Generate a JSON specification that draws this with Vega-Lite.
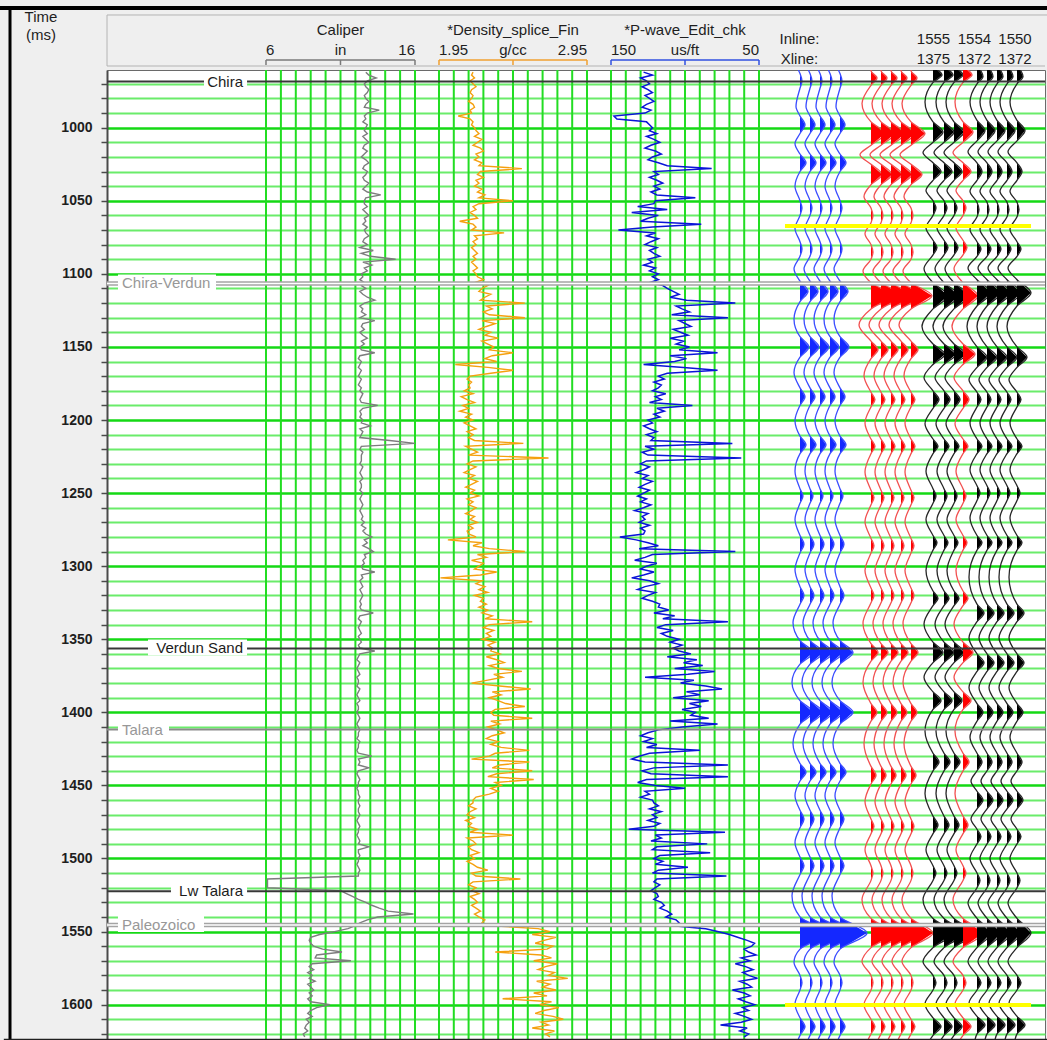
{
"$schema": "https://vega.github.io/schema/vega-lite/v6.json",
"width": 938,
"height": 969,
"autosize": {"type": "none"},
"padding": {"left": 107, "top": 70, "right": 2, "bottom": 1},
"background": "#efefef",
"view": {"fill": "#ffffff", "stroke": "#6a6a6a", "strokeWidth": 1},
"config": {"font": "Liberation Sans"},
"data": {"values": [{}]},
"datasets": {
"logs": [
{"t":962,"c":12.7,"d":2.18,"p":128},{"t":964,"c":12.9,"d":2.17,"p":122},{"t":966,"c":13.4,"d":2.19,"p":130},{"t":968,"c":12.8,"d":2.16,"p":126},{"t":970,"c":12.6,"d":2.18,"p":124},{"t":972,"c":12.7,"d":2.20,"p":129},{"t":974,"c":12.9,"d":2.17,"p":125},{"t":976,"c":12.8,"d":2.16,"p":122},{"t":978,"c":12.6,"d":2.18,"p":127},{"t":980,"c":12.7,"d":2.17,"p":124},
{"t":982,"c":12.9,"d":2.15,"p":121},{"t":984,"c":12.7,"d":2.18,"p":126},{"t":986,"c":12.6,"d":2.19,"p":129},{"t":988,"c":13.6,"d":2.16,"p":123},{"t":990,"c":12.8,"d":2.17,"p":127},{"t":992,"c":12.6,"d":2.08,"p":148},{"t":994,"c":12.7,"d":2.16,"p":146},{"t":996,"c":12.5,"d":2.18,"p":126},{"t":998,"c":12.8,"d":2.17,"p":124},{"t":1000,"c":12.7,"d":2.19,"p":122},
{"t":1002,"c":12.6,"d":2.20,"p":124},{"t":1004,"c":12.8,"d":2.22,"p":119},{"t":1006,"c":12.5,"d":2.19,"p":126},{"t":1008,"c":12.7,"d":2.24,"p":121},{"t":1010,"c":12.9,"d":2.21,"p":117},{"t":1012,"c":12.6,"d":2.18,"p":123},{"t":1014,"c":12.5,"d":2.23,"p":127},{"t":1016,"c":12.8,"d":2.25,"p":120},{"t":1018,"c":12.6,"d":2.20,"p":116},{"t":1020,"c":12.4,"d":2.22,"p":122},
{"t":1022,"c":12.7,"d":2.19,"p":125},{"t":1024,"c":12.9,"d":2.24,"p":118},{"t":1026,"c":12.6,"d":2.22,"p":112},{"t":1028,"c":12.5,"d":2.51,"p":82},{"t":1030,"c":12.8,"d":2.23,"p":121},{"t":1032,"c":12.7,"d":2.21,"p":118},{"t":1034,"c":12.5,"d":2.25,"p":124},{"t":1036,"c":12.6,"d":2.20,"p":119},{"t":1038,"c":12.9,"d":2.22,"p":115},{"t":1040,"c":12.7,"d":2.19,"p":121},
{"t":1042,"c":12.5,"d":2.24,"p":117},{"t":1044,"c":12.8,"d":2.21,"p":123},{"t":1046,"c":13.7,"d":2.26,"p":119},{"t":1048,"c":12.7,"d":2.22,"p":93},{"t":1050,"c":12.6,"d":2.45,"p":120},{"t":1052,"c":12.6,"d":2.22,"p":121},{"t":1054,"c":12.8,"d":2.18,"p":132},{"t":1056,"c":12.5,"d":2.20,"p":112},{"t":1058,"c":12.7,"d":2.16,"p":136},{"t":1060,"c":12.9,"d":2.19,"p":118},
{"t":1062,"c":12.6,"d":2.21,"p":125},{"t":1064,"c":12.7,"d":2.09,"p":130},{"t":1066,"c":12.5,"d":2.18,"p":89},{"t":1068,"c":12.8,"d":2.20,"p":122},{"t":1070,"c":12.6,"d":2.17,"p":145},{"t":1072,"c":12.7,"d":2.39,"p":120},{"t":1074,"c":12.9,"d":2.19,"p":126},{"t":1076,"c":12.6,"d":2.21,"p":118},{"t":1078,"c":12.5,"d":2.18,"p":123},{"t":1080,"c":12.8,"d":2.20,"p":127},
{"t":1082,"c":12.3,"d":2.17,"p":119},{"t":1084,"c":13.2,"d":2.19,"p":124},{"t":1086,"c":12.4,"d":2.21,"p":121},{"t":1088,"c":13.0,"d":2.18,"p":117},{"t":1090,"c":14.7,"d":2.20,"p":125},{"t":1092,"c":12.5,"d":2.17,"p":122},{"t":1094,"c":13.1,"d":2.19,"p":128},{"t":1096,"c":12.6,"d":2.21,"p":120},{"t":1098,"c":12.8,"d":2.18,"p":124},{"t":1100,"c":12.4,"d":2.20,"p":118},
{"t":1102,"c":12.5,"d":2.21,"p":122},{"t":1104,"c":12.3,"d":2.25,"p":118},{"t":1106,"c":12.6,"d":2.19,"p":124},{"t":1108,"c":12.4,"d":2.28,"p":115},{"t":1110,"c":12.7,"d":2.24,"p":112},{"t":1112,"c":12.3,"d":2.22,"p":108},{"t":1114,"c":12.5,"d":2.30,"p":104},{"t":1116,"c":12.8,"d":2.26,"p":110},{"t":1118,"c":13.3,"d":2.23,"p":99},{"t":1120,"c":12.6,"d":2.53,"p":66},
{"t":1122,"c":12.3,"d":2.27,"p":106},{"t":1124,"c":12.5,"d":2.31,"p":102},{"t":1126,"c":12.4,"d":2.25,"p":97},{"t":1128,"c":12.7,"d":2.29,"p":109},{"t":1130,"c":12.3,"d":2.53,"p":71},{"t":1132,"c":13.3,"d":2.24,"p":104},{"t":1134,"c":12.5,"d":2.33,"p":100},{"t":1136,"c":12.4,"d":2.27,"p":96},{"t":1138,"c":12.6,"d":2.22,"p":108},{"t":1140,"c":12.3,"d":2.30,"p":103},
{"t":1142,"c":12.5,"d":2.26,"p":98},{"t":1144,"c":12.8,"d":2.35,"p":110},{"t":1146,"c":12.4,"d":2.24,"p":101},{"t":1148,"c":12.6,"d":2.28,"p":106},{"t":1150,"c":12.3,"d":2.32,"p":97},{"t":1152,"c":12.4,"d":2.29,"p":104},{"t":1154,"c":13.3,"d":2.45,"p":78},{"t":1156,"c":12.3,"d":2.31,"p":110},{"t":1158,"c":12.2,"d":2.26,"p":99},{"t":1160,"c":12.4,"d":2.34,"p":107},
{"t":1162,"c":12.3,"d":2.06,"p":128},{"t":1164,"c":12.2,"d":2.28,"p":101},{"t":1166,"c":12.4,"d":2.45,"p":78},{"t":1168,"c":12.3,"d":2.30,"p":112},{"t":1170,"c":12.2,"d":2.16,"p":118},{"t":1172,"c":12.4,"d":2.14,"p":114},{"t":1174,"c":12.3,"d":2.17,"p":121},{"t":1176,"c":12.2,"d":2.15,"p":116},{"t":1178,"c":12.4,"d":2.16,"p":118},{"t":1180,"c":12.3,"d":2.12,"p":122},
{"t":1182,"c":12.5,"d":2.18,"p":113},{"t":1184,"c":12.4,"d":2.10,"p":120},{"t":1186,"c":12.3,"d":2.14,"p":116},{"t":1188,"c":12.4,"d":2.19,"p":124},{"t":1190,"c":13.5,"d":2.11,"p":95},{"t":1192,"c":12.5,"d":2.15,"p":119},{"t":1194,"c":12.3,"d":2.09,"p":114},{"t":1196,"c":12.4,"d":2.17,"p":121},{"t":1198,"c":12.3,"d":2.13,"p":117},{"t":1200,"c":12.5,"d":2.18,"p":125},
{"t":1202,"c":12.4,"d":2.12,"p":122},{"t":1204,"c":13.0,"d":2.16,"p":128},{"t":1206,"c":12.3,"d":2.20,"p":124},{"t":1208,"c":12.5,"d":2.14,"p":119},{"t":1210,"c":12.4,"d":2.18,"p":126},{"t":1212,"c":12.3,"d":2.15,"p":121},{"t":1214,"c":14.3,"d":2.19,"p":123},{"t":1216,"c":16.0,"d":2.52,"p":68},{"t":1218,"c":12.4,"d":2.13,"p":127},{"t":1220,"c":12.3,"d":2.17,"p":121},
{"t":1222,"c":12.5,"d":2.21,"p":129},{"t":1224,"c":12.4,"d":2.15,"p":125},{"t":1226,"c":12.4,"d":2.69,"p":62},{"t":1228,"c":12.4,"d":2.18,"p":126},{"t":1230,"c":12.3,"d":2.14,"p":130},{"t":1232,"c":12.5,"d":2.20,"p":124},{"t":1234,"c":12.4,"d":2.16,"p":128},{"t":1236,"c":12.3,"d":2.12,"p":133},{"t":1238,"c":12.4,"d":2.19,"p":125},{"t":1240,"c":12.5,"d":2.15,"p":129},
{"t":1242,"c":12.3,"d":2.21,"p":122},{"t":1244,"c":12.4,"d":2.17,"p":127},{"t":1246,"c":12.4,"d":2.13,"p":131},{"t":1248,"c":12.3,"d":2.19,"p":124},{"t":1250,"c":12.5,"d":2.16,"p":128},{"t":1252,"c":12.4,"d":2.22,"p":132},{"t":1254,"c":12.3,"d":2.14,"p":126},{"t":1256,"c":12.4,"d":2.18,"p":130},{"t":1258,"c":12.5,"d":2.15,"p":123},{"t":1260,"c":12.4,"d":2.20,"p":128},
{"t":1262,"c":12.3,"d":2.17,"p":134},{"t":1264,"c":12.4,"d":2.13,"p":125},{"t":1266,"c":12.5,"d":2.19,"p":129},{"t":1268,"c":12.4,"d":2.16,"p":127},{"t":1270,"c":12.6,"d":2.21,"p":131},{"t":1272,"c":12.4,"d":2.15,"p":124},{"t":1274,"c":12.7,"d":2.18,"p":130},{"t":1276,"c":12.5,"d":2.14,"p":127},{"t":1278,"c":12.7,"d":2.15,"p":128},{"t":1280,"c":13.1,"d":2.20,"p":144},
{"t":1282,"c":12.6,"d":2.01,"p":133},{"t":1284,"c":12.8,"d":2.24,"p":125},{"t":1286,"c":12.5,"d":2.18,"p":118},{"t":1288,"c":12.9,"d":2.29,"p":131},{"t":1290,"c":13.2,"d":2.53,"p":66},{"t":1292,"c":12.6,"d":2.21,"p":122},{"t":1294,"c":12.7,"d":2.27,"p":127},{"t":1296,"c":12.5,"d":2.17,"p":134},{"t":1298,"c":12.6,"d":2.25,"p":119},{"t":1300,"c":12.4,"d":2.22,"p":126},
{"t":1302,"c":12.5,"d":2.19,"p":130},{"t":1304,"c":13.3,"d":2.34,"p":121},{"t":1306,"c":12.4,"d":2.23,"p":128},{"t":1308,"c":12.5,"d":1.96,"p":136},{"t":1310,"c":12.3,"d":2.24,"p":124},{"t":1312,"c":12.4,"d":2.20,"p":118},{"t":1314,"c":12.5,"d":2.26,"p":127},{"t":1316,"c":12.3,"d":2.22,"p":132},{"t":1318,"c":12.4,"d":2.28,"p":120},{"t":1320,"c":12.5,"d":2.19,"p":125},
{"t":1322,"c":12.4,"d":2.25,"p":129},{"t":1324,"c":12.3,"d":2.23,"p":122},{"t":1326,"c":12.4,"d":2.27,"p":117},{"t":1328,"c":12.3,"d":2.22,"p":118},{"t":1330,"c":12.4,"d":2.28,"p":111},{"t":1332,"c":13.2,"d":2.24,"p":121},{"t":1334,"c":12.3,"d":2.31,"p":107},{"t":1336,"c":12.2,"d":2.26,"p":115},{"t":1338,"c":12.4,"d":2.58,"p":71},{"t":1340,"c":12.3,"d":2.29,"p":113},
{"t":1342,"c":12.2,"d":2.25,"p":119},{"t":1344,"c":12.3,"d":2.32,"p":108},{"t":1346,"c":12.4,"d":2.27,"p":116},{"t":1348,"c":12.2,"d":2.30,"p":112},{"t":1350,"c":12.3,"d":2.24,"p":104},{"t":1352,"c":12.4,"d":2.33,"p":110},{"t":1354,"c":12.2,"d":2.28,"p":102},{"t":1356,"c":12.3,"d":2.31,"p":108},{"t":1358,"c":13.3,"d":2.30,"p":104},{"t":1360,"c":12.3,"d":2.36,"p":96},
{"t":1362,"c":12.2,"d":2.27,"p":112},{"t":1364,"c":12.1,"d":2.34,"p":92},{"t":1366,"c":12.3,"d":2.39,"p":101},{"t":1368,"c":12.2,"d":2.29,"p":88},{"t":1370,"c":12.1,"d":2.35,"p":107},{"t":1372,"c":12.2,"d":2.51,"p":80},{"t":1374,"c":12.3,"d":2.32,"p":98},{"t":1376,"c":12.1,"d":2.38,"p":127},{"t":1378,"c":12.2,"d":2.28,"p":94},{"t":1380,"c":12.2,"d":2.17,"p":103},
{"t":1382,"c":12.1,"d":2.36,"p":86},{"t":1384,"c":12.3,"d":2.57,"p":75},{"t":1386,"c":12.2,"d":2.31,"p":99},{"t":1388,"c":12.1,"d":2.37,"p":90},{"t":1390,"c":12.2,"d":2.29,"p":108},{"t":1392,"c":12.3,"d":2.35,"p":84},{"t":1394,"c":12.1,"d":2.40,"p":97},{"t":1396,"c":12.2,"d":2.53,"p":89},{"t":1398,"c":12.2,"d":2.33,"p":102},{"t":1400,"c":12.1,"d":2.30,"p":93},
{"t":1402,"c":12.2,"d":2.32,"p":96},{"t":1404,"c":12.3,"d":2.58,"p":84},{"t":1406,"c":12.2,"d":2.30,"p":110},{"t":1408,"c":12.1,"d":2.36,"p":78},{"t":1410,"c":12.2,"d":2.28,"p":102},{"t":1412,"c":12.3,"d":2.34,"p":118},{"t":1414,"c":12.2,"d":2.39,"p":125},{"t":1416,"c":12.2,"d":2.31,"p":130},{"t":1418,"c":12.1,"d":2.27,"p":122},{"t":1420,"c":12.3,"d":2.35,"p":128},
{"t":1422,"c":12.2,"d":2.30,"p":119},{"t":1424,"c":12.2,"d":2.37,"p":126},{"t":1426,"c":12.1,"d":2.56,"p":90},{"t":1428,"c":12.2,"d":2.33,"p":124},{"t":1430,"c":13.1,"d":2.29,"p":131},{"t":1432,"c":12.2,"d":2.17,"p":136},{"t":1434,"c":12.3,"d":2.56,"p":127},{"t":1436,"c":12.2,"d":2.36,"p":71},{"t":1438,"c":12.9,"d":2.31,"p":121},{"t":1440,"c":12.2,"d":2.58,"p":129},
{"t":1442,"c":12.1,"d":2.34,"p":123},{"t":1444,"c":12.2,"d":2.28,"p":71},{"t":1446,"c":12.3,"d":2.59,"p":126},{"t":1448,"c":12.2,"d":2.33,"p":132},{"t":1450,"c":12.2,"d":2.37,"p":120},{"t":1452,"c":12.1,"d":2.30,"p":100},{"t":1454,"c":12.2,"d":2.35,"p":127},{"t":1456,"c":12.2,"d":2.29,"p":124},{"t":1458,"c":12.3,"d":2.20,"p":130},{"t":1460,"c":12.2,"d":2.18,"p":122},
{"t":1462,"c":12.2,"d":2.18,"p":121},{"t":1464,"c":12.3,"d":2.15,"p":118},{"t":1466,"c":12.2,"d":2.20,"p":124},{"t":1468,"c":12.2,"d":2.16,"p":116},{"t":1470,"c":12.3,"d":2.14,"p":122},{"t":1472,"c":12.2,"d":2.19,"p":119},{"t":1474,"c":12.1,"d":2.13,"p":125},{"t":1476,"c":12.2,"d":2.17,"p":117},{"t":1478,"c":12.3,"d":2.15,"p":121},{"t":1480,"c":12.2,"d":2.21,"p":138},
{"t":1482,"c":12.2,"d":2.16,"p":73},{"t":1484,"c":12.1,"d":2.45,"p":120},{"t":1486,"c":12.2,"d":2.14,"p":116},{"t":1488,"c":12.3,"d":2.18,"p":123},{"t":1490,"c":12.2,"d":2.20,"p":85},{"t":1492,"c":12.9,"d":2.15,"p":119},{"t":1494,"c":12.2,"d":2.17,"p":122},{"t":1496,"c":12.2,"d":2.22,"p":83},{"t":1498,"c":12.3,"d":2.16,"p":117},{"t":1500,"c":12.2,"d":2.19,"p":121},
{"t":1502,"c":12.2,"d":2.14,"p":115},{"t":1504,"c":12.1,"d":2.18,"p":120},{"t":1506,"c":12.2,"d":2.21,"p":98},{"t":1508,"c":12.3,"d":2.28,"p":118},{"t":1510,"c":12.2,"d":2.17,"p":122},{"t":1512,"c":12.2,"d":2.20,"p":72},{"t":1514,"c":6.1,"d":2.50,"p":119},{"t":1516,"c":6.1,"d":2.18,"p":121},{"t":1518,"c":6.1,"d":2.15,"p":117},{"t":1520,"c":6.1,"d":2.20,"p":120},
{"t":1522,"c":11.0,"d":2.17,"p":123},{"t":1524,"c":11.4,"d":2.22,"p":119},{"t":1526,"c":11.8,"d":2.16,"p":118},{"t":1528,"c":12.2,"d":2.19,"p":121},{"t":1530,"c":12.7,"d":2.21,"p":116},{"t":1532,"c":13.1,"d":2.17,"p":114},{"t":1534,"c":13.6,"d":2.20,"p":117},{"t":1536,"c":14.2,"d":2.23,"p":112},{"t":1538,"c":15.9,"d":2.19,"p":109},{"t":1540,"c":13.5,"d":2.22,"p":113},
{"t":1542,"c":12.8,"d":2.26,"p":106},{"t":1544,"c":12.3,"d":2.24,"p":104},{"t":1546,"c":12.0,"d":2.31,"p":108},{"t":1548,"c":11.5,"d":2.62,"p":86},{"t":1550,"c":10.6,"d":2.70,"p":78},{"t":1552,"c":9.6,"d":2.58,"p":70},{"t":1554,"c":9.0,"d":2.74,"p":64},{"t":1556,"c":8.9,"d":2.66,"p":58},{"t":1558,"c":9.0,"d":2.60,"p":53},{"t":1560,"c":9.2,"d":2.72,"p":55},
{"t":1562,"c":9.8,"d":2.68,"p":60},{"t":1564,"c":11.1,"d":2.33,"p":57},{"t":1566,"c":9.4,"d":2.64,"p":52},{"t":1568,"c":9.3,"d":2.71,"p":62},{"t":1570,"c":11.7,"d":2.59,"p":56},{"t":1572,"c":9.1,"d":2.75,"p":66},{"t":1574,"c":8.9,"d":2.67,"p":59},{"t":1576,"c":9.2,"d":2.62,"p":54},{"t":1578,"c":8.8,"d":2.73,"p":61},{"t":1580,"c":9.1,"d":2.69,"p":57},
{"t":1582,"c":8.9,"d":2.82,"p":51},{"t":1584,"c":9.3,"d":2.61,"p":63},{"t":1586,"c":8.8,"d":2.70,"p":58},{"t":1588,"c":9.0,"d":2.65,"p":55},{"t":1590,"c":9.2,"d":2.74,"p":68},{"t":1592,"c":8.9,"d":2.59,"p":60},{"t":1594,"c":9.1,"d":2.68,"p":56},{"t":1596,"c":8.8,"d":2.38,"p":64},{"t":1598,"c":9.0,"d":2.71,"p":59},{"t":1600,"c":10.3,"d":2.63,"p":53},
{"t":1602,"c":9.4,"d":2.76,"p":61},{"t":1604,"c":9.0,"d":2.66,"p":57},{"t":1606,"c":8.8,"d":2.60,"p":66},{"t":1608,"c":9.1,"d":2.72,"p":60},{"t":1610,"c":8.7,"d":2.79,"p":55},{"t":1612,"c":8.9,"d":2.64,"p":62},{"t":1614,"c":8.7,"d":2.69,"p":76},{"t":1616,"c":8.6,"d":2.58,"p":58},{"t":1618,"c":8.8,"d":2.73,"p":63},{"t":1620,"c":8.5,"d":2.67,"p":57},
{"t":1622,"c":8.6,"d":2.70,"p":60}
],
"B": [
{"t":960,"a":-2},{"t":963,"a":0},{"t":968,"a":2},{"t":973,"a":0},{"t":985.5,"a":-4},{"t":992,"a":0},{"t":998,"a":5},{"t":1004,"a":0},{"t":1011,"a":-5},{"t":1018,"a":0},{"t":1024,"a":6},{"t":1030,"a":0},{"t":1040,"a":-5},{"t":1050,"a":0},{"t":1055,"a":2},{"t":1060,"a":0},{"t":1069,"a":-5},{"t":1078,"a":0},{"t":1083,"a":2},{"t":1088,"a":0},{"t":1096.5,"a":-6},{"t":1105,"a":0},{"t":1112,"a":8},{"t":1119,"a":0},{"t":1131,"a":-6},{"t":1143,"a":0},{"t":1150,"a":9},{"t":1157,"a":0},{"t":1167.5,"a":-6},{"t":1178,"a":0},{"t":1184,"a":5},{"t":1190,"a":0},{"t":1200.5,"a":-5},{"t":1211,"a":0},{"t":1217,"a":6},{"t":1223,"a":0},{"t":1235,"a":-5},{"t":1247,"a":0},{"t":1252,"a":3},{"t":1257,"a":0},{"t":1268,"a":-5},{"t":1279,"a":0},{"t":1285,"a":4},{"t":1291,"a":0},{"t":1302.5,"a":-5},{"t":1314,"a":0},{"t":1320,"a":4},{"t":1326,"a":0},{"t":1338.5,"a":-7},{"t":1351,"a":0},{"t":1359,"a":13},{"t":1367,"a":0},{"t":1379.5,"a":-8},{"t":1392,"a":0},{"t":1400,"a":13},{"t":1408,"a":0},{"t":1421.5,"a":-7},{"t":1435,"a":0},{"t":1441,"a":6},{"t":1447,"a":0},{"t":1457,"a":-5},{"t":1467,"a":0},{"t":1473,"a":4},{"t":1479,"a":0},{"t":1489,"a":-5},{"t":1499,"a":0},{"t":1505,"a":4},{"t":1511,"a":0},{"t":1525.5,"a":-8},{"t":1540,"a":0},{"t":1551,"a":27},{"t":1562,"a":0},{"t":1571,"a":-6},{"t":1580,"a":0},{"t":1585,"a":2},{"t":1590,"a":0},{"t":1599.5,"a":-5},{"t":1609,"a":0},{"t":1615,"a":5},{"t":1621,"a":0},{"t":1624,"a":-2}
],
"R": [
{"t":960,"a":1},{"t":961,"a":0},{"t":966,"a":6},{"t":971,"a":0},{"t":983.5,"a":-9},{"t":996,"a":0},{"t":1004,"a":14},{"t":1012,"a":0},{"t":1018.5,"a":-11},{"t":1025,"a":0},{"t":1032,"a":11},{"t":1039,"a":0},{"t":1047,"a":-7},{"t":1055,"a":0},{"t":1060,"a":2},{"t":1065,"a":0},{"t":1072.5,"a":-6},{"t":1080,"a":0},{"t":1085,"a":2},{"t":1090,"a":0},{"t":1098,"a":-8},{"t":1106,"a":0},{"t":1115,"a":21},{"t":1124,"a":0},{"t":1135,"a":-12},{"t":1146,"a":0},{"t":1152,"a":7},{"t":1158,"a":0},{"t":1169.5,"a":-7},{"t":1181,"a":0},{"t":1186,"a":4},{"t":1191,"a":0},{"t":1202,"a":-6},{"t":1213,"a":0},{"t":1218,"a":4},{"t":1223,"a":0},{"t":1235.5,"a":-6},{"t":1248,"a":0},{"t":1253,"a":3},{"t":1258,"a":0},{"t":1269.5,"a":-6},{"t":1281,"a":0},{"t":1286,"a":3},{"t":1291,"a":0},{"t":1303,"a":-6},{"t":1315,"a":0},{"t":1320,"a":3},{"t":1325,"a":0},{"t":1339,"a":-8},{"t":1353,"a":0},{"t":1359,"a":7},{"t":1365,"a":0},{"t":1379.5,"a":-8},{"t":1394,"a":0},{"t":1400,"a":6},{"t":1406,"a":0},{"t":1421.5,"a":-7},{"t":1437,"a":0},{"t":1443,"a":5},{"t":1449,"a":0},{"t":1461,"a":-6},{"t":1473,"a":0},{"t":1478,"a":3},{"t":1483,"a":0},{"t":1494,"a":-6},{"t":1505,"a":0},{"t":1510,"a":2},{"t":1515,"a":0},{"t":1528,"a":-9},{"t":1541,"a":0},{"t":1551,"a":22},{"t":1561,"a":0},{"t":1570.5,"a":-9},{"t":1580,"a":0},{"t":1585,"a":2},{"t":1590,"a":0},{"t":1600,"a":-7},{"t":1610,"a":0},{"t":1615,"a":4},{"t":1620,"a":0},{"t":1624,"a":-3}
],
"K1": [
{"t":960,"a":4},{"t":964,"a":9},{"t":969,"a":0},{"t":982.5,"a":-8},{"t":996,"a":0},{"t":1003,"a":10},{"t":1010,"a":0},{"t":1017,"a":-10},{"t":1024,"a":0},{"t":1030,"a":8},{"t":1036,"a":0},{"t":1043,"a":-7},{"t":1050,"a":0},{"t":1055,"a":3},{"t":1060,"a":0},{"t":1068.5,"a":-7},{"t":1077,"a":0},{"t":1082,"a":4},{"t":1087,"a":0},{"t":1096.5,"a":-9},{"t":1106,"a":0},{"t":1115,"a":15},{"t":1124,"a":0},{"t":1136,"a":-11},{"t":1148,"a":0},{"t":1155,"a":12},{"t":1162,"a":0},{"t":1171,"a":-9},{"t":1180,"a":0},{"t":1186,"a":6},{"t":1192,"a":0},{"t":1202.5,"a":-8},{"t":1213,"a":0},{"t":1218,"a":5},{"t":1223,"a":0},{"t":1235,"a":-7},{"t":1247,"a":0},{"t":1252,"a":3},{"t":1257,"a":0},{"t":1268,"a":-7},{"t":1279,"a":0},{"t":1284,"a":4},{"t":1289,"a":0},{"t":1303,"a":-7},{"t":1317,"a":0},{"t":1322,"a":5},{"t":1327,"a":0},{"t":1339.5,"a":-9},{"t":1352,"a":0},{"t":1359,"a":10},{"t":1366,"a":0},{"t":1376,"a":-9},{"t":1386,"a":0},{"t":1392,"a":8},{"t":1398,"a":0},{"t":1413,"a":-8},{"t":1428,"a":0},{"t":1434,"a":6},{"t":1440,"a":0},{"t":1455.5,"a":-8},{"t":1471,"a":0},{"t":1477,"a":5},{"t":1483,"a":0},{"t":1494,"a":-7},{"t":1505,"a":0},{"t":1510,"a":3},{"t":1515,"a":0},{"t":1528,"a":-10},{"t":1541,"a":0},{"t":1551,"a":20},{"t":1561,"a":0},{"t":1570.5,"a":-10},{"t":1580,"a":0},{"t":1585,"a":3},{"t":1590,"a":0},{"t":1599.5,"a":-8},{"t":1609,"a":0},{"t":1615,"a":8},{"t":1621,"a":0},{"t":1624,"a":-3}
],
"K2": [
{"t":960,"a":3},{"t":965,"a":6},{"t":970,"a":0},{"t":982.5,"a":-7},{"t":995,"a":0},{"t":1002,"a":8},{"t":1009,"a":0},{"t":1016.5,"a":-9},{"t":1024,"a":0},{"t":1030,"a":5},{"t":1036,"a":0},{"t":1043.5,"a":-7},{"t":1051,"a":0},{"t":1056,"a":2},{"t":1061,"a":0},{"t":1069.5,"a":-7},{"t":1078,"a":0},{"t":1083,"a":4},{"t":1088,"a":0},{"t":1096,"a":-9},{"t":1104,"a":0},{"t":1113,"a":14},{"t":1122,"a":0},{"t":1136,"a":-10},{"t":1150,"a":0},{"t":1157,"a":10},{"t":1164,"a":0},{"t":1172.5,"a":-8},{"t":1181,"a":0},{"t":1186,"a":4},{"t":1191,"a":0},{"t":1202,"a":-7},{"t":1213,"a":0},{"t":1218,"a":5},{"t":1223,"a":0},{"t":1234,"a":-7},{"t":1245,"a":0},{"t":1250,"a":3},{"t":1255,"a":0},{"t":1267,"a":-7},{"t":1279,"a":0},{"t":1284,"a":5},{"t":1289,"a":0},{"t":1307.5,"a":-8},{"t":1326,"a":0},{"t":1332,"a":7},{"t":1338,"a":0},{"t":1349,"a":-8},{"t":1360,"a":0},{"t":1366,"a":7},{"t":1372,"a":0},{"t":1383,"a":-8},{"t":1394,"a":0},{"t":1400,"a":6},{"t":1406,"a":0},{"t":1417,"a":-7},{"t":1428,"a":0},{"t":1434,"a":5},{"t":1440,"a":0},{"t":1447,"a":-6},{"t":1454,"a":0},{"t":1460,"a":6},{"t":1466,"a":0},{"t":1473,"a":-6},{"t":1480,"a":0},{"t":1485,"a":4},{"t":1490,"a":0},{"t":1500,"a":-7},{"t":1510,"a":0},{"t":1515,"a":3},{"t":1520,"a":0},{"t":1530.5,"a":-9},{"t":1541,"a":0},{"t":1551,"a":14},{"t":1561,"a":0},{"t":1570.5,"a":-9},{"t":1580,"a":0},{"t":1585,"a":4},{"t":1590,"a":0},{"t":1599,"a":-8},{"t":1608,"a":0},{"t":1614,"a":8},{"t":1620,"a":0},{"t":1624,"a":-2}
],
"tops": [
{"top":"Chira","t":968.4,"kind":"major"},
{"top":"Chira-Verdun","t":1106.6,"kind":"double"},
{"top":"Verdun Sand","t":1356.3,"kind":"major"},
{"top":"Talara","t":1411.8,"kind":"single"},
{"top":"Lw Talara","t":1522.4,"kind":"major"},
{"top":"Paleozoico","t":1545.5,"kind":"double"}
],
"markers": [{"t":1067.3},{"t":1600.3}]
},
"resolve": {"scale": {"x": "independent"}},
"layer": [
{"data":{"values":[{"v":6},{"v":7},{"v":8},{"v":9},{"v":10},{"v":11},{"v":12},{"v":13},{"v":14},{"v":15},{"v":16}]},"mark":{"type":"rule","color":"#22dd22","strokeWidth":2},"encoding":{"x":{"field":"v","type":"quantitative","scale":{"domain":[-4.671,58.282]},"axis":null}}},
{"data":{"values":[{"v":1.95},{"v":2.05},{"v":2.15},{"v":2.25},{"v":2.35},{"v":2.45},{"v":2.55},{"v":2.65},{"v":2.75},{"v":2.85},{"v":2.95}]},"mark":{"type":"rule","color":"#22dd22","strokeWidth":2},"encoding":{"x":{"field":"v","type":"quantitative","scale":{"domain":[-0.2932,6.0446]},"axis":null}}},
{"data":{"values":[{"v":150},{"v":140},{"v":130},{"v":120},{"v":110},{"v":100},{"v":90},{"v":80},{"v":70},{"v":60},{"v":50}]},"mark":{"type":"rule","color":"#22dd22","strokeWidth":2},"encoding":{"x":{"field":"v","type":"quantitative","scale":{"domain":[-143.24,490.54],"reverse":true},"axis":null}}},
{"data":{"name":"logs"},"mark":{"type":"line","color":"#7d7d7d","strokeWidth":1.4,"clip":true},"encoding":{
 "x":{"field":"c","type":"quantitative","scale":{"domain":[-4.671,58.282]},"axis":null},
 "y":{"field":"t","type":"quantitative","scale":{"domain":[960.53,1623.5],"reverse":true,"nice":false,"zero":false},"axis":{"title":null,"values":[970,980,990,1000,1010,1020,1030,1040,1050,1060,1070,1080,1090,1100,1110,1120,1130,1140,1150,1160,1170,1180,1190,1200,1210,1220,1230,1240,1250,1260,1270,1280,1290,1300,1310,1320,1330,1340,1350,1360,1370,1380,1390,1400,1410,1420,1430,1440,1450,1460,1470,1480,1490,1500,1510,1520,1530,1540,1550,1560,1570,1580,1590,1600,1610,1620],"tickCount":200,"grid":true,"gridColor":{"condition":{"test":"datum.value % 50 === 0","value":"#14d914"},"value":"#6aec6a"},"gridWidth":{"condition":{"test":"datum.value % 50 === 0","value":2.6},"value":1.8},"labelExpr":"datum.value % 50 === 0 ? datum.value : ''","labelFontWeight":"bold","labelFontSize":14,"labelColor":"#1e1e1e","labelPadding":9,"labelOverlap":false,"labelBound":false,"tickSize":6,"tickWidth":1.5,"tickColor":"#4a4a4a","domainColor":"#4a4a4a","domainWidth":2}},
 "order":{"field":"t","type":"quantitative"}}},
{"data":{"name":"logs"},"mark":{"type":"line","color":"#f5a00f","strokeWidth":1.4,"clip":true},"encoding":{"x":{"field":"d","type":"quantitative","scale":{"domain":[-0.2932,6.0446]},"axis":null},"y":{"field":"t","type":"quantitative"},"order":{"field":"t","type":"quantitative"}}},
{"data":{"name":"logs"},"mark":{"type":"line","color":"#0a14d8","strokeWidth":1.5,"clip":true},"encoding":{"x":{"field":"p","type":"quantitative","scale":{"domain":[-143.24,490.54],"reverse":true},"axis":null},"y":{"field":"t","type":"quantitative"},"order":{"field":"t","type":"quantitative"}}},

{"data":{"name":"B"},"transform":[{"filter":"datum.a >= 0"}],"mark":{"type":"area","orient":"horizontal","color":"#1428ff","clip":true},"encoding":{"y":{"field":"t","type":"quantitative"},"x":{"field":"a","type":"quantitative","scale":{"domain":[-693,245]},"axis":null,"stack":null},"x2":{"datum":0}}},
{"data":{"name":"B"},"mark":{"type":"area","orient":"horizontal","interpolate":"monotone","fillOpacity":0,"stroke":"#3a4cff","strokeWidth":1.3,"clip":true},"encoding":{"y":{"field":"t","type":"quantitative"},"x":{"field":"a","type":"quantitative","scale":{"domain":[-693,245]},"axis":null,"stack":null},"x2":{"field":"a"}}},
{"data":{"name":"B"},"transform":[{"filter":"datum.a >= 0"}],"mark":{"type":"area","orient":"horizontal","color":"#1428ff","clip":true},"encoding":{"y":{"field":"t","type":"quantitative"},"x":{"field":"a","type":"quantitative","scale":{"domain":[-703,235]},"axis":null,"stack":null},"x2":{"datum":0}}},
{"data":{"name":"B"},"mark":{"type":"area","orient":"horizontal","interpolate":"monotone","fillOpacity":0,"stroke":"#3a4cff","strokeWidth":1.3,"clip":true},"encoding":{"y":{"field":"t","type":"quantitative"},"x":{"field":"a","type":"quantitative","scale":{"domain":[-703,235]},"axis":null,"stack":null},"x2":{"field":"a"}}},
{"data":{"name":"B"},"transform":[{"filter":"datum.a >= 0"}],"mark":{"type":"area","orient":"horizontal","color":"#1428ff","clip":true},"encoding":{"y":{"field":"t","type":"quantitative"},"x":{"field":"a","type":"quantitative","scale":{"domain":[-713,225]},"axis":null,"stack":null},"x2":{"datum":0}}},
{"data":{"name":"B"},"mark":{"type":"area","orient":"horizontal","interpolate":"monotone","fillOpacity":0,"stroke":"#3a4cff","strokeWidth":1.3,"clip":true},"encoding":{"y":{"field":"t","type":"quantitative"},"x":{"field":"a","type":"quantitative","scale":{"domain":[-713,225]},"axis":null,"stack":null},"x2":{"field":"a"}}},
{"data":{"name":"B"},"transform":[{"filter":"datum.a >= 0"}],"mark":{"type":"area","orient":"horizontal","color":"#1428ff","clip":true},"encoding":{"y":{"field":"t","type":"quantitative"},"x":{"field":"a","type":"quantitative","scale":{"domain":[-723,215]},"axis":null,"stack":null},"x2":{"datum":0}}},
{"data":{"name":"B"},"mark":{"type":"area","orient":"horizontal","interpolate":"monotone","fillOpacity":0,"stroke":"#3a4cff","strokeWidth":1.3,"clip":true},"encoding":{"y":{"field":"t","type":"quantitative"},"x":{"field":"a","type":"quantitative","scale":{"domain":[-723,215]},"axis":null,"stack":null},"x2":{"field":"a"}}},
{"data":{"name":"B"},"transform":[{"filter":"datum.a >= 0"}],"mark":{"type":"area","orient":"horizontal","color":"#1428ff","clip":true},"encoding":{"y":{"field":"t","type":"quantitative"},"x":{"field":"a","type":"quantitative","scale":{"domain":[-733,205]},"axis":null,"stack":null},"x2":{"datum":0}}},
{"data":{"name":"B"},"mark":{"type":"area","orient":"horizontal","interpolate":"monotone","fillOpacity":0,"stroke":"#3a4cff","strokeWidth":1.3,"clip":true},"encoding":{"y":{"field":"t","type":"quantitative"},"x":{"field":"a","type":"quantitative","scale":{"domain":[-733,205]},"axis":null,"stack":null},"x2":{"field":"a"}}},

{"data":{"name":"R"},"transform":[{"filter":"datum.a >= 0"}],"mark":{"type":"area","orient":"horizontal","color":"#ff0000","clip":true},"encoding":{"y":{"field":"t","type":"quantitative"},"x":{"field":"a","type":"quantitative","scale":{"domain":[-764,174]},"axis":null,"stack":null},"x2":{"datum":0}}},
{"data":{"name":"R"},"mark":{"type":"area","orient":"horizontal","interpolate":"monotone","fillOpacity":0,"stroke":"#f25050","strokeWidth":1.3,"clip":true},"encoding":{"y":{"field":"t","type":"quantitative"},"x":{"field":"a","type":"quantitative","scale":{"domain":[-764,174]},"axis":null,"stack":null},"x2":{"field":"a"}}},
{"data":{"name":"R"},"transform":[{"filter":"datum.a >= 0"}],"mark":{"type":"area","orient":"horizontal","color":"#ff0000","clip":true},"encoding":{"y":{"field":"t","type":"quantitative"},"x":{"field":"a","type":"quantitative","scale":{"domain":[-774,164]},"axis":null,"stack":null},"x2":{"datum":0}}},
{"data":{"name":"R"},"mark":{"type":"area","orient":"horizontal","interpolate":"monotone","fillOpacity":0,"stroke":"#f25050","strokeWidth":1.3,"clip":true},"encoding":{"y":{"field":"t","type":"quantitative"},"x":{"field":"a","type":"quantitative","scale":{"domain":[-774,164]},"axis":null,"stack":null},"x2":{"field":"a"}}},
{"data":{"name":"R"},"transform":[{"filter":"datum.a >= 0"}],"mark":{"type":"area","orient":"horizontal","color":"#ff0000","clip":true},"encoding":{"y":{"field":"t","type":"quantitative"},"x":{"field":"a","type":"quantitative","scale":{"domain":[-784,154]},"axis":null,"stack":null},"x2":{"datum":0}}},
{"data":{"name":"R"},"mark":{"type":"area","orient":"horizontal","interpolate":"monotone","fillOpacity":0,"stroke":"#f25050","strokeWidth":1.3,"clip":true},"encoding":{"y":{"field":"t","type":"quantitative"},"x":{"field":"a","type":"quantitative","scale":{"domain":[-784,154]},"axis":null,"stack":null},"x2":{"field":"a"}}},
{"data":{"name":"R"},"transform":[{"filter":"datum.a >= 0"}],"mark":{"type":"area","orient":"horizontal","color":"#ff0000","clip":true},"encoding":{"y":{"field":"t","type":"quantitative"},"x":{"field":"a","type":"quantitative","scale":{"domain":[-794,144]},"axis":null,"stack":null},"x2":{"datum":0}}},
{"data":{"name":"R"},"mark":{"type":"area","orient":"horizontal","interpolate":"monotone","fillOpacity":0,"stroke":"#f25050","strokeWidth":1.3,"clip":true},"encoding":{"y":{"field":"t","type":"quantitative"},"x":{"field":"a","type":"quantitative","scale":{"domain":[-794,144]},"axis":null,"stack":null},"x2":{"field":"a"}}},
{"data":{"name":"R"},"transform":[{"filter":"datum.a >= 0"}],"mark":{"type":"area","orient":"horizontal","color":"#ff0000","clip":true},"encoding":{"y":{"field":"t","type":"quantitative"},"x":{"field":"a","type":"quantitative","scale":{"domain":[-804,134]},"axis":null,"stack":null},"x2":{"datum":0}}},
{"data":{"name":"R"},"mark":{"type":"area","orient":"horizontal","interpolate":"monotone","fillOpacity":0,"stroke":"#f25050","strokeWidth":1.3,"clip":true},"encoding":{"y":{"field":"t","type":"quantitative"},"x":{"field":"a","type":"quantitative","scale":{"domain":[-804,134]},"axis":null,"stack":null},"x2":{"field":"a"}}},

{"data":{"name":"K1"},"transform":[{"filter":"datum.a >= 0"}],"mark":{"type":"area","orient":"horizontal","color":"#000000","clip":true},"encoding":{"y":{"field":"t","type":"quantitative"},"x":{"field":"a","type":"quantitative","scale":{"domain":[-826,112]},"axis":null,"stack":null},"x2":{"datum":0}}},
{"data":{"name":"K1"},"mark":{"type":"area","orient":"horizontal","interpolate":"monotone","fillOpacity":0,"stroke":"#262626","strokeWidth":1.3,"clip":true},"encoding":{"y":{"field":"t","type":"quantitative"},"x":{"field":"a","type":"quantitative","scale":{"domain":[-826,112]},"axis":null,"stack":null},"x2":{"field":"a"}}},
{"data":{"name":"K1"},"transform":[{"filter":"datum.a >= 0"}],"mark":{"type":"area","orient":"horizontal","color":"#000000","clip":true},"encoding":{"y":{"field":"t","type":"quantitative"},"x":{"field":"a","type":"quantitative","scale":{"domain":[-837,101]},"axis":null,"stack":null},"x2":{"datum":0}}},
{"data":{"name":"K1"},"mark":{"type":"area","orient":"horizontal","interpolate":"monotone","fillOpacity":0,"stroke":"#262626","strokeWidth":1.3,"clip":true},"encoding":{"y":{"field":"t","type":"quantitative"},"x":{"field":"a","type":"quantitative","scale":{"domain":[-837,101]},"axis":null,"stack":null},"x2":{"field":"a"}}},
{"data":{"name":"K1"},"transform":[{"filter":"datum.a >= 0"}],"mark":{"type":"area","orient":"horizontal","color":"#000000","clip":true},"encoding":{"y":{"field":"t","type":"quantitative"},"x":{"field":"a","type":"quantitative","scale":{"domain":[-847,91]},"axis":null,"stack":null},"x2":{"datum":0}}},
{"data":{"name":"K1"},"mark":{"type":"area","orient":"horizontal","interpolate":"monotone","fillOpacity":0,"stroke":"#262626","strokeWidth":1.3,"clip":true},"encoding":{"y":{"field":"t","type":"quantitative"},"x":{"field":"a","type":"quantitative","scale":{"domain":[-847,91]},"axis":null,"stack":null},"x2":{"field":"a"}}},
{"data":{"name":"K1"},"transform":[{"filter":"datum.a >= 0"}],"mark":{"type":"area","orient":"horizontal","color":"#ff0000","clip":true},"encoding":{"y":{"field":"t","type":"quantitative"},"x":{"field":"a","type":"quantitative","scale":{"domain":[-856,82]},"axis":null,"stack":null},"x2":{"datum":0}}},
{"data":{"name":"K1"},"mark":{"type":"area","orient":"horizontal","interpolate":"monotone","fillOpacity":0,"stroke":"#f25050","strokeWidth":1.3,"clip":true},"encoding":{"y":{"field":"t","type":"quantitative"},"x":{"field":"a","type":"quantitative","scale":{"domain":[-856,82]},"axis":null,"stack":null},"x2":{"field":"a"}}},

{"data":{"name":"K2"},"transform":[{"filter":"datum.a >= 0"}],"mark":{"type":"area","orient":"horizontal","color":"#000000","clip":true},"encoding":{"y":{"field":"t","type":"quantitative"},"x":{"field":"a","type":"quantitative","scale":{"domain":[-870,68]},"axis":null,"stack":null},"x2":{"datum":0}}},
{"data":{"name":"K2"},"mark":{"type":"area","orient":"horizontal","interpolate":"monotone","fillOpacity":0,"stroke":"#262626","strokeWidth":1.3,"clip":true},"encoding":{"y":{"field":"t","type":"quantitative"},"x":{"field":"a","type":"quantitative","scale":{"domain":[-870,68]},"axis":null,"stack":null},"x2":{"field":"a"}}},
{"data":{"name":"K2"},"transform":[{"filter":"datum.a >= 0"}],"mark":{"type":"area","orient":"horizontal","color":"#000000","clip":true},"encoding":{"y":{"field":"t","type":"quantitative"},"x":{"field":"a","type":"quantitative","scale":{"domain":[-880,58]},"axis":null,"stack":null},"x2":{"datum":0}}},
{"data":{"name":"K2"},"mark":{"type":"area","orient":"horizontal","interpolate":"monotone","fillOpacity":0,"stroke":"#262626","strokeWidth":1.3,"clip":true},"encoding":{"y":{"field":"t","type":"quantitative"},"x":{"field":"a","type":"quantitative","scale":{"domain":[-880,58]},"axis":null,"stack":null},"x2":{"field":"a"}}},
{"data":{"name":"K2"},"transform":[{"filter":"datum.a >= 0"}],"mark":{"type":"area","orient":"horizontal","color":"#000000","clip":true},"encoding":{"y":{"field":"t","type":"quantitative"},"x":{"field":"a","type":"quantitative","scale":{"domain":[-890,48]},"axis":null,"stack":null},"x2":{"datum":0}}},
{"data":{"name":"K2"},"mark":{"type":"area","orient":"horizontal","interpolate":"monotone","fillOpacity":0,"stroke":"#262626","strokeWidth":1.3,"clip":true},"encoding":{"y":{"field":"t","type":"quantitative"},"x":{"field":"a","type":"quantitative","scale":{"domain":[-890,48]},"axis":null,"stack":null},"x2":{"field":"a"}}},
{"data":{"name":"K2"},"transform":[{"filter":"datum.a >= 0"}],"mark":{"type":"area","orient":"horizontal","color":"#000000","clip":true},"encoding":{"y":{"field":"t","type":"quantitative"},"x":{"field":"a","type":"quantitative","scale":{"domain":[-900,38]},"axis":null,"stack":null},"x2":{"datum":0}}},
{"data":{"name":"K2"},"mark":{"type":"area","orient":"horizontal","interpolate":"monotone","fillOpacity":0,"stroke":"#262626","strokeWidth":1.3,"clip":true},"encoding":{"y":{"field":"t","type":"quantitative"},"x":{"field":"a","type":"quantitative","scale":{"domain":[-900,38]},"axis":null,"stack":null},"x2":{"field":"a"}}},
{"data":{"name":"K2"},"transform":[{"filter":"datum.a >= 0"}],"mark":{"type":"area","orient":"horizontal","color":"#000000","clip":true},"encoding":{"y":{"field":"t","type":"quantitative"},"x":{"field":"a","type":"quantitative","scale":{"domain":[-910,28]},"axis":null,"stack":null},"x2":{"datum":0}}},
{"data":{"name":"K2"},"mark":{"type":"area","orient":"horizontal","interpolate":"monotone","fillOpacity":0,"stroke":"#262626","strokeWidth":1.3,"clip":true},"encoding":{"y":{"field":"t","type":"quantitative"},"x":{"field":"a","type":"quantitative","scale":{"domain":[-910,28]},"axis":null,"stack":null},"x2":{"field":"a"}}},

{"data":{"name":"tops"},"transform":[{"filter":"datum.kind === 'major'"}],"mark":{"type":"rule","color":"#383838","strokeWidth":2},"encoding":{"y":{"field":"t","type":"quantitative"}}},
{"data":{"name":"tops"},"transform":[{"filter":"datum.kind === 'double'"}],"mark":{"type":"rule","color":"#a4a4a4","strokeWidth":4.5},"encoding":{"y":{"field":"t","type":"quantitative"}}},
{"data":{"name":"tops"},"transform":[{"filter":"datum.kind === 'double'"}],"mark":{"type":"rule","color":"#ffffff","strokeWidth":1.4},"encoding":{"y":{"field":"t","type":"quantitative"}}},
{"data":{"name":"tops"},"transform":[{"filter":"datum.kind === 'single'"}],"mark":{"type":"rule","color":"#8a8a8a","strokeWidth":2},"encoding":{"y":{"field":"t","type":"quantitative"}}},
{"data":{"name":"markers"},"mark":{"type":"rule","color":"#ffff00","strokeWidth":4},"encoding":{"y":{"field":"t","type":"quantitative"},"x":{"datum":72.28,"type":"quantitative","scale":{"domain":[0,100]},"axis":null},"x2":{"datum":98.51}}},

{"data":{"name":"tops"},"transform":[{"filter":"datum.top === 'Chira'"}],"mark":{"type":"rect","color":"#ffffff","yOffset":-9,"y2Offset":7},"encoding":{"y":{"field":"t","type":"quantitative"},"y2":{"field":"t"},"x":{"datum":10.34,"type":"quantitative","scale":{"domain":[0,100]},"axis":null},"x2":{"datum":14.93}}},
{"data":{"name":"tops"},"transform":[{"filter":"datum.top === 'Chira-Verdun'"}],"mark":{"type":"rect","color":"#ffffff","yOffset":-9,"y2Offset":7},"encoding":{"y":{"field":"t","type":"quantitative"},"y2":{"field":"t"},"x":{"datum":1.17,"type":"quantitative","scale":{"domain":[0,100]},"axis":null},"x2":{"datum":11.62}}},
{"data":{"name":"tops"},"transform":[{"filter":"datum.top === 'Verdun Sand'"}],"mark":{"type":"rect","color":"#ffffff","yOffset":-9,"y2Offset":7},"encoding":{"y":{"field":"t","type":"quantitative"},"y2":{"field":"t"},"x":{"datum":4.37,"type":"quantitative","scale":{"domain":[0,100]},"axis":null},"x2":{"datum":14.93}}},
{"data":{"name":"tops"},"transform":[{"filter":"datum.top === 'Talara'"}],"mark":{"type":"rect","color":"#ffffff","yOffset":-9,"y2Offset":7},"encoding":{"y":{"field":"t","type":"quantitative"},"y2":{"field":"t"},"x":{"datum":1.17,"type":"quantitative","scale":{"domain":[0,100]},"axis":null},"x2":{"datum":6.61}}},
{"data":{"name":"tops"},"transform":[{"filter":"datum.top === 'Lw Talara'"}],"mark":{"type":"rect","color":"#ffffff","yOffset":-9,"y2Offset":7},"encoding":{"y":{"field":"t","type":"quantitative"},"y2":{"field":"t"},"x":{"datum":6.82,"type":"quantitative","scale":{"domain":[0,100]},"axis":null},"x2":{"datum":14.93}}},
{"data":{"name":"tops"},"transform":[{"filter":"datum.top === 'Paleozoico'"}],"mark":{"type":"rect","color":"#ffffff","yOffset":-9,"y2Offset":7},"encoding":{"y":{"field":"t","type":"quantitative"},"y2":{"field":"t"},"x":{"datum":1.17,"type":"quantitative","scale":{"domain":[0,100]},"axis":null},"x2":{"datum":10.34}}},
{"data":{"name":"tops"},"transform":[{"filter":"datum.kind === 'major'"}],"mark":{"type":"text","align":"right","baseline":"middle","fontSize":15,"color":"#1c1c1c"},"encoding":{"text":{"field":"top"},"y":{"field":"t","type":"quantitative"},"x":{"datum":14.5,"type":"quantitative","scale":{"domain":[0,100]},"axis":null}}},
{"data":{"name":"tops"},"transform":[{"filter":"datum.kind !== 'major'"}],"mark":{"type":"text","align":"left","baseline":"middle","fontSize":15,"color":"#989898"},"encoding":{"text":{"field":"top"},"y":{"field":"t","type":"quantitative"},"x":{"datum":1.6,"type":"quantitative","scale":{"domain":[0,100]},"axis":null}}},

{"mark":{"type":"rule","color":"#b4b4b4","strokeWidth":1},"encoding":{"x":{"datum":0,"type":"quantitative","scale":{"domain":[0,100]},"axis":null},"x2":{"datum":100.3},"y":{"datum":922.9,"type":"quantitative"}}},
{"mark":{"type":"rule","color":"#b4b4b4","strokeWidth":1},"encoding":{"x":{"datum":0,"type":"quantitative","scale":{"domain":[0,100]},"axis":null},"y":{"datum":922.9,"type":"quantitative"},"y2":{"datum":957.8}}},
{"mark":{"type":"rule","color":"#b4b4b4","strokeWidth":1.2},"encoding":{"x":{"datum":0,"type":"quantitative","scale":{"domain":[0,100]},"axis":null},"x2":{"datum":100},"y":{"datum":957.8,"type":"quantitative"}}},
{"mark":{"type":"text","text":["Time","(ms)"],"align":"center","baseline":"middle","fontSize":15,"lineHeight":18,"color":"#1e1e1e"},"encoding":{"x":{"datum":-7.04,"type":"quantitative","scale":{"domain":[0,100]},"axis":null},"y":{"datum":924.27,"type":"quantitative"}}},

{"mark":{"type":"text","text":"Caliper","align":"center","baseline":"middle","fontSize":15,"color":"#1e1e1e"},"encoding":{"x":{"datum":11,"type":"quantitative","scale":{"domain":[-4.671,58.282]},"axis":null},"y":{"datum":933.2,"type":"quantitative"}}},
{"mark":{"type":"text","text":"6","align":"left","baseline":"middle","fontSize":15,"color":"#1e1e1e"},"encoding":{"x":{"datum":6,"type":"quantitative","scale":{"domain":[-4.671,58.282]},"axis":null},"y":{"datum":946.8,"type":"quantitative"}}},
{"mark":{"type":"text","text":"in","align":"center","baseline":"middle","fontSize":15,"color":"#1e1e1e"},"encoding":{"x":{"datum":11,"type":"quantitative","scale":{"domain":[-4.671,58.282]},"axis":null},"y":{"datum":946.8,"type":"quantitative"}}},
{"mark":{"type":"text","text":"16","align":"right","baseline":"middle","fontSize":15,"color":"#1e1e1e"},"encoding":{"x":{"datum":16,"type":"quantitative","scale":{"domain":[-4.671,58.282]},"axis":null},"y":{"datum":946.8,"type":"quantitative"}}},
{"mark":{"type":"rule","color":"#7a7a7a","strokeWidth":1.5},"encoding":{"x":{"datum":6,"type":"quantitative","scale":{"domain":[-4.671,58.282]},"axis":null},"x2":{"datum":16},"y":{"datum":953.7,"type":"quantitative"}}},
{"data":{"values":[{"v":6},{"v":11},{"v":16}]},"mark":{"type":"rule","color":"#7a7a7a","strokeWidth":1.5},"encoding":{"x":{"field":"v","type":"quantitative","scale":{"domain":[-4.671,58.282]},"axis":null},"y":{"datum":953.7,"type":"quantitative"},"y2":{"datum":957.1}}},

{"mark":{"type":"text","text":"*Density_splice_Fin","align":"center","baseline":"middle","fontSize":15,"color":"#1e1e1e"},"encoding":{"x":{"datum":2.45,"type":"quantitative","scale":{"domain":[-0.2932,6.0446]},"axis":null},"y":{"datum":933.2,"type":"quantitative"}}},
{"mark":{"type":"text","text":"1.95","align":"left","baseline":"middle","fontSize":15,"color":"#1e1e1e"},"encoding":{"x":{"datum":1.95,"type":"quantitative","scale":{"domain":[-0.2932,6.0446]},"axis":null},"y":{"datum":946.8,"type":"quantitative"}}},
{"mark":{"type":"text","text":"g/cc","align":"center","baseline":"middle","fontSize":15,"color":"#1e1e1e"},"encoding":{"x":{"datum":2.45,"type":"quantitative","scale":{"domain":[-0.2932,6.0446]},"axis":null},"y":{"datum":946.8,"type":"quantitative"}}},
{"mark":{"type":"text","text":"2.95","align":"right","baseline":"middle","fontSize":15,"color":"#1e1e1e"},"encoding":{"x":{"datum":2.95,"type":"quantitative","scale":{"domain":[-0.2932,6.0446]},"axis":null},"y":{"datum":946.8,"type":"quantitative"}}},
{"mark":{"type":"rule","color":"#f0a030","strokeWidth":1.5},"encoding":{"x":{"datum":1.95,"type":"quantitative","scale":{"domain":[-0.2932,6.0446]},"axis":null},"x2":{"datum":2.95},"y":{"datum":953.7,"type":"quantitative"}}},
{"data":{"values":[{"v":1.95},{"v":2.45},{"v":2.95}]},"mark":{"type":"rule","color":"#f0a030","strokeWidth":1.5},"encoding":{"x":{"field":"v","type":"quantitative","scale":{"domain":[-0.2932,6.0446]},"axis":null},"y":{"datum":953.7,"type":"quantitative"},"y2":{"datum":957.1}}},

{"mark":{"type":"text","text":"*P-wave_Edit_chk","align":"center","baseline":"middle","fontSize":15,"color":"#1e1e1e"},"encoding":{"x":{"datum":100,"type":"quantitative","scale":{"domain":[-143.24,490.54],"reverse":true},"axis":null},"y":{"datum":933.2,"type":"quantitative"}}},
{"mark":{"type":"text","text":"150","align":"left","baseline":"middle","fontSize":15,"color":"#1e1e1e"},"encoding":{"x":{"datum":150,"type":"quantitative","scale":{"domain":[-143.24,490.54],"reverse":true},"axis":null},"y":{"datum":946.8,"type":"quantitative"}}},
{"mark":{"type":"text","text":"us/ft","align":"center","baseline":"middle","fontSize":15,"color":"#1e1e1e"},"encoding":{"x":{"datum":100,"type":"quantitative","scale":{"domain":[-143.24,490.54],"reverse":true},"axis":null},"y":{"datum":946.8,"type":"quantitative"}}},
{"mark":{"type":"text","text":"50","align":"right","baseline":"middle","fontSize":15,"color":"#1e1e1e"},"encoding":{"x":{"datum":50,"type":"quantitative","scale":{"domain":[-143.24,490.54],"reverse":true},"axis":null},"y":{"datum":946.8,"type":"quantitative"}}},
{"mark":{"type":"rule","color":"#3050e0","strokeWidth":1.5},"encoding":{"x":{"datum":150,"type":"quantitative","scale":{"domain":[-143.24,490.54],"reverse":true},"axis":null},"x2":{"datum":50},"y":{"datum":953.7,"type":"quantitative"}}},
{"data":{"values":[{"v":150},{"v":100},{"v":50}]},"mark":{"type":"rule","color":"#3050e0","strokeWidth":1.5},"encoding":{"x":{"field":"v","type":"quantitative","scale":{"domain":[-143.24,490.54],"reverse":true},"axis":null},"y":{"datum":953.7,"type":"quantitative"},"y2":{"datum":957.1}}},

{"mark":{"type":"text","text":["Inline:","Xline:"],"align":"center","baseline":"middle","fontSize":15,"lineHeight":20,"color":"#1e1e1e"},"encoding":{"x":{"datum":73.83,"type":"quantitative","scale":{"domain":[0,100]},"axis":null},"y":{"datum":939.52,"type":"quantitative"}}},
{"mark":{"type":"text","text":["1555","1375"],"align":"center","baseline":"middle","fontSize":15,"lineHeight":20,"color":"#1e1e1e"},"encoding":{"x":{"datum":88.11,"type":"quantitative","scale":{"domain":[0,100]},"axis":null},"y":{"datum":939.52,"type":"quantitative"}}},
{"mark":{"type":"text","text":["1554","1372"],"align":"center","baseline":"middle","fontSize":15,"lineHeight":20,"color":"#1e1e1e"},"encoding":{"x":{"datum":92.48,"type":"quantitative","scale":{"domain":[0,100]},"axis":null},"y":{"datum":939.52,"type":"quantitative"}}},
{"mark":{"type":"text","text":["1550","1372"],"align":"center","baseline":"middle","fontSize":15,"lineHeight":20,"color":"#1e1e1e"},"encoding":{"x":{"datum":96.8,"type":"quantitative","scale":{"domain":[0,100]},"axis":null},"y":{"datum":939.52,"type":"quantitative"}}},

{"mark":{"type":"rule","color":"#000000","strokeWidth":4},"encoding":{"x":{"datum":-11.5,"type":"quantitative","scale":{"domain":[0,100]},"axis":null},"x2":{"datum":101},"y":{"datum":918.1,"type":"quantitative"}}},
{"mark":{"type":"rule","color":"#000000","strokeWidth":3},"encoding":{"x":{"datum":-10.34,"type":"quantitative","scale":{"domain":[0,100]},"axis":null},"y":{"datum":916.8,"type":"quantitative"},"y2":{"datum":1626}}},
{"mark":{"type":"rule","color":"#202020","strokeWidth":2},"encoding":{"x":{"datum":-11,"type":"quantitative","scale":{"domain":[0,100]},"axis":null},"x2":{"datum":101},"y":{"datum":1624,"type":"quantitative"}}}
]
}
